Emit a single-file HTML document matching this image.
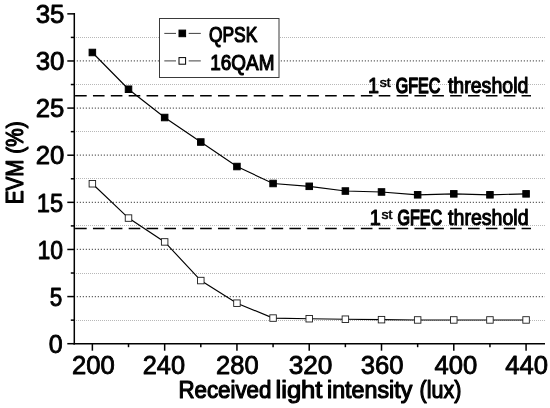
<!DOCTYPE html>
<html><head><meta charset="utf-8"><title>EVM vs received light intensity</title>
<style>html,body{margin:0;padding:0;background:#fff;}svg{display:block;will-change:transform;opacity:0.999;}</style></head>
<body>
<svg width="550" height="408" viewBox="0 0 550 408" font-family="'Liberation Sans', sans-serif" fill="#000">
<rect width="550" height="408" fill="#fff"/>
<line x1="76" x2="545" y1="320.5" y2="320.5" stroke="#b8b8b8" stroke-width="1" stroke-dasharray="1 1"/>
<line x1="76.8" x2="545" y1="296.58" y2="296.58" stroke="#555" stroke-width="1.3" stroke-dasharray="1.1 1.9"/>
<line x1="76" x2="545" y1="273.5" y2="273.5" stroke="#b8b8b8" stroke-width="1" stroke-dasharray="1 1"/>
<line x1="76.8" x2="545" y1="249.46" y2="249.46" stroke="#555" stroke-width="1.3" stroke-dasharray="1.1 1.9"/>
<line x1="76" x2="545" y1="225.5" y2="225.5" stroke="#b8b8b8" stroke-width="1" stroke-dasharray="1 1"/>
<line x1="76.8" x2="545" y1="202.34" y2="202.34" stroke="#555" stroke-width="1.3" stroke-dasharray="1.1 1.9"/>
<line x1="76" x2="545" y1="178.5" y2="178.5" stroke="#b8b8b8" stroke-width="1" stroke-dasharray="1 1"/>
<line x1="76.8" x2="545" y1="155.21" y2="155.21" stroke="#555" stroke-width="1.3" stroke-dasharray="1.1 1.9"/>
<line x1="76" x2="545" y1="131.5" y2="131.5" stroke="#b8b8b8" stroke-width="1" stroke-dasharray="1 1"/>
<line x1="76.8" x2="545" y1="108.09" y2="108.09" stroke="#555" stroke-width="1.3" stroke-dasharray="1.1 1.9"/>
<line x1="76" x2="545" y1="84.5" y2="84.5" stroke="#b8b8b8" stroke-width="1" stroke-dasharray="1 1"/>
<line x1="76.8" x2="545" y1="60.97" y2="60.97" stroke="#555" stroke-width="1.3" stroke-dasharray="1.1 1.9"/>
<line x1="76" x2="545" y1="37.5" y2="37.5" stroke="#b8b8b8" stroke-width="1" stroke-dasharray="1 1"/>
<line x1="74.3" x2="531" y1="95.8" y2="95.8" stroke="#000" stroke-width="1.6" stroke-dasharray="11.6 6.26" stroke-dashoffset="-0.8"/>
<line x1="74.3" x2="531" y1="228.5" y2="228.5" stroke="#000" stroke-width="1.6" stroke-dasharray="11.6 6.26" stroke-dashoffset="-0.8"/>
<line x1="74.3" x2="74.3" y1="13.05" y2="344.50" stroke="#000" stroke-width="1.5"/>
<line x1="73.5" x2="545" y1="343.7" y2="343.7" stroke="#000" stroke-width="1.5"/>
<line x1="67.3" x2="74.3" y1="343.70" y2="343.70" stroke="#000" stroke-width="1.5"/>
<line x1="70.8" x2="74.3" y1="320.14" y2="320.14" stroke="#000" stroke-width="1.5"/>
<line x1="67.3" x2="74.3" y1="296.58" y2="296.58" stroke="#000" stroke-width="1.5"/>
<line x1="70.8" x2="74.3" y1="273.02" y2="273.02" stroke="#000" stroke-width="1.5"/>
<line x1="67.3" x2="74.3" y1="249.46" y2="249.46" stroke="#000" stroke-width="1.5"/>
<line x1="70.8" x2="74.3" y1="225.90" y2="225.90" stroke="#000" stroke-width="1.5"/>
<line x1="67.3" x2="74.3" y1="202.34" y2="202.34" stroke="#000" stroke-width="1.5"/>
<line x1="70.8" x2="74.3" y1="178.78" y2="178.78" stroke="#000" stroke-width="1.5"/>
<line x1="67.3" x2="74.3" y1="155.21" y2="155.21" stroke="#000" stroke-width="1.5"/>
<line x1="70.8" x2="74.3" y1="131.65" y2="131.65" stroke="#000" stroke-width="1.5"/>
<line x1="67.3" x2="74.3" y1="108.09" y2="108.09" stroke="#000" stroke-width="1.5"/>
<line x1="70.8" x2="74.3" y1="84.53" y2="84.53" stroke="#000" stroke-width="1.5"/>
<line x1="67.3" x2="74.3" y1="60.97" y2="60.97" stroke="#000" stroke-width="1.5"/>
<line x1="70.8" x2="74.3" y1="37.41" y2="37.41" stroke="#000" stroke-width="1.5"/>
<line x1="67.3" x2="74.3" y1="13.85" y2="13.85" stroke="#000" stroke-width="1.5"/>
<line x1="92.37" x2="92.37" y1="343.7" y2="350.7" stroke="#000" stroke-width="1.5"/>
<line x1="128.51" x2="128.51" y1="343.7" y2="347.2" stroke="#000" stroke-width="1.5"/>
<line x1="164.66" x2="164.66" y1="343.7" y2="350.7" stroke="#000" stroke-width="1.5"/>
<line x1="200.80" x2="200.80" y1="343.7" y2="347.2" stroke="#000" stroke-width="1.5"/>
<line x1="236.94" x2="236.94" y1="343.7" y2="350.7" stroke="#000" stroke-width="1.5"/>
<line x1="273.08" x2="273.08" y1="343.7" y2="347.2" stroke="#000" stroke-width="1.5"/>
<line x1="309.22" x2="309.22" y1="343.7" y2="350.7" stroke="#000" stroke-width="1.5"/>
<line x1="345.37" x2="345.37" y1="343.7" y2="347.2" stroke="#000" stroke-width="1.5"/>
<line x1="381.51" x2="381.51" y1="343.7" y2="350.7" stroke="#000" stroke-width="1.5"/>
<line x1="417.65" x2="417.65" y1="343.7" y2="347.2" stroke="#000" stroke-width="1.5"/>
<line x1="453.79" x2="453.79" y1="343.7" y2="350.7" stroke="#000" stroke-width="1.5"/>
<line x1="489.94" x2="489.94" y1="343.7" y2="347.2" stroke="#000" stroke-width="1.5"/>
<line x1="526.08" x2="526.08" y1="343.7" y2="350.7" stroke="#000" stroke-width="1.5"/>
<text transform="translate(62.70,352.90) scale(1.0,1)" font-size="25" text-anchor="end" stroke="#000" stroke-width="0.85" vector-effect="non-scaling-stroke" stroke-linejoin="round" >0</text>
<text transform="translate(62.30,305.78) scale(0.9,1)" font-size="25" text-anchor="end" stroke="#000" stroke-width="0.85" vector-effect="non-scaling-stroke" stroke-linejoin="round" >5</text>
<text transform="translate(63.00,258.66) scale(0.92,1)" font-size="25" text-anchor="end" stroke="#000" stroke-width="0.85" vector-effect="non-scaling-stroke" stroke-linejoin="round" >10</text>
<text transform="translate(63.20,211.54) scale(0.95,1)" font-size="25" text-anchor="end" stroke="#000" stroke-width="0.85" vector-effect="non-scaling-stroke" stroke-linejoin="round" >15</text>
<text transform="translate(64.30,164.41) scale(1.03,1)" font-size="25" text-anchor="end" stroke="#000" stroke-width="0.85" vector-effect="non-scaling-stroke" stroke-linejoin="round" >20</text>
<text transform="translate(64.30,117.29) scale(1.03,1)" font-size="25" text-anchor="end" stroke="#000" stroke-width="0.85" vector-effect="non-scaling-stroke" stroke-linejoin="round" >25</text>
<text transform="translate(64.50,70.17) scale(1.035,1)" font-size="25" text-anchor="end" stroke="#000" stroke-width="0.85" vector-effect="non-scaling-stroke" stroke-linejoin="round" >30</text>
<text transform="translate(64.50,23.05) scale(1.035,1)" font-size="25" text-anchor="end" stroke="#000" stroke-width="0.85" vector-effect="non-scaling-stroke" stroke-linejoin="round" >35</text>
<text transform="translate(93.47,373.60) scale(1.025,1)" font-size="25" text-anchor="middle" stroke="#000" stroke-width="0.85" vector-effect="non-scaling-stroke" stroke-linejoin="round" >200</text>
<text transform="translate(163.86,373.60) scale(1.015,1)" font-size="25" text-anchor="middle" stroke="#000" stroke-width="0.85" vector-effect="non-scaling-stroke" stroke-linejoin="round" >240</text>
<text transform="translate(237.34,373.60) scale(1.02,1)" font-size="25" text-anchor="middle" stroke="#000" stroke-width="0.85" vector-effect="non-scaling-stroke" stroke-linejoin="round" >280</text>
<text transform="translate(310.52,373.60) scale(1.05,1)" font-size="25" text-anchor="middle" stroke="#000" stroke-width="0.85" vector-effect="non-scaling-stroke" stroke-linejoin="round" >320</text>
<text transform="translate(382.21,373.60) scale(1.025,1)" font-size="25" text-anchor="middle" stroke="#000" stroke-width="0.85" vector-effect="non-scaling-stroke" stroke-linejoin="round" >360</text>
<text transform="translate(455.79,373.60) scale(1.025,1)" font-size="25" text-anchor="middle" stroke="#000" stroke-width="0.85" vector-effect="non-scaling-stroke" stroke-linejoin="round" >400</text>
<text transform="translate(526.68,373.60) scale(1.025,1)" font-size="25" text-anchor="middle" stroke="#000" stroke-width="0.85" vector-effect="non-scaling-stroke" stroke-linejoin="round" >440</text>
<text transform="translate(178.40,398.40) scale(0.915,1)" font-size="24.4" text-anchor="start" stroke="#000" stroke-width="1.15" vector-effect="non-scaling-stroke" stroke-linejoin="round" >Received</text>
<text transform="translate(275.50,398.40) scale(1.05,1)" font-size="24.4" text-anchor="start" stroke="#000" stroke-width="1.15" vector-effect="non-scaling-stroke" stroke-linejoin="round" >light</text>
<text transform="translate(327.00,398.40) scale(0.953,1)" font-size="24.4" text-anchor="start" stroke="#000" stroke-width="1.15" vector-effect="non-scaling-stroke" stroke-linejoin="round" >intensity</text>
<text transform="translate(419.60,398.40) scale(0.88,1)" font-size="24.4" text-anchor="start" stroke="#000" stroke-width="1.15" vector-effect="non-scaling-stroke" stroke-linejoin="round" >(lux)</text>
<text transform="translate(23.2,162.9) rotate(-90) scale(0.875,1)" font-size="23.7" text-anchor="middle" stroke="#000" stroke-width="1.1" vector-effect="non-scaling-stroke" stroke-linejoin="round">EVM (%)</text>
<polyline points="92.37,52.49 128.51,89.24 164.66,117.52 200.80,142.02 236.94,166.52 273.08,183.49 309.22,186.31 345.37,191.03 381.51,191.97 417.65,194.80 453.79,193.85 489.94,194.80 526.08,193.85" fill="none" stroke="#000" stroke-width="1.15"/>
<rect x="89.12" y="49.24" width="6.5" height="6.5" fill="#000" stroke="#000" stroke-width="1"/>
<rect x="125.26" y="85.99" width="6.5" height="6.5" fill="#000" stroke="#000" stroke-width="1"/>
<rect x="161.41" y="114.27" width="6.5" height="6.5" fill="#000" stroke="#000" stroke-width="1"/>
<rect x="197.55" y="138.77" width="6.5" height="6.5" fill="#000" stroke="#000" stroke-width="1"/>
<rect x="233.69" y="163.27" width="6.5" height="6.5" fill="#000" stroke="#000" stroke-width="1"/>
<rect x="269.83" y="180.24" width="6.5" height="6.5" fill="#000" stroke="#000" stroke-width="1"/>
<rect x="305.97" y="183.06" width="6.5" height="6.5" fill="#000" stroke="#000" stroke-width="1"/>
<rect x="342.12" y="187.78" width="6.5" height="6.5" fill="#000" stroke="#000" stroke-width="1"/>
<rect x="378.26" y="188.72" width="6.5" height="6.5" fill="#000" stroke="#000" stroke-width="1"/>
<rect x="414.40" y="191.55" width="6.5" height="6.5" fill="#000" stroke="#000" stroke-width="1"/>
<rect x="450.54" y="190.60" width="6.5" height="6.5" fill="#000" stroke="#000" stroke-width="1"/>
<rect x="486.69" y="191.55" width="6.5" height="6.5" fill="#000" stroke="#000" stroke-width="1"/>
<rect x="522.83" y="190.60" width="6.5" height="6.5" fill="#000" stroke="#000" stroke-width="1"/>
<polyline points="92.37,183.77 128.51,218.07 164.66,241.92 200.80,280.56 236.94,303.18 273.08,318.07 309.22,318.73 345.37,319.20 381.51,319.67 417.65,319.95 453.79,319.95 489.94,319.95 526.08,319.95" fill="none" stroke="#000" stroke-width="1.15"/>
<rect x="89.12" y="180.52" width="6.5" height="6.5" fill="#fff" stroke="#1c1c1c" stroke-width="0.9"/>
<rect x="125.26" y="214.82" width="6.5" height="6.5" fill="#fff" stroke="#1c1c1c" stroke-width="0.9"/>
<rect x="161.41" y="238.67" width="6.5" height="6.5" fill="#fff" stroke="#1c1c1c" stroke-width="0.9"/>
<rect x="197.55" y="277.31" width="6.5" height="6.5" fill="#fff" stroke="#1c1c1c" stroke-width="0.9"/>
<rect x="233.69" y="299.93" width="6.5" height="6.5" fill="#fff" stroke="#1c1c1c" stroke-width="0.9"/>
<rect x="269.83" y="314.82" width="6.5" height="6.5" fill="#fff" stroke="#1c1c1c" stroke-width="0.9"/>
<rect x="305.97" y="315.48" width="6.5" height="6.5" fill="#fff" stroke="#1c1c1c" stroke-width="0.9"/>
<rect x="342.12" y="315.95" width="6.5" height="6.5" fill="#fff" stroke="#1c1c1c" stroke-width="0.9"/>
<rect x="378.26" y="316.42" width="6.5" height="6.5" fill="#fff" stroke="#1c1c1c" stroke-width="0.9"/>
<rect x="414.40" y="316.70" width="6.5" height="6.5" fill="#fff" stroke="#1c1c1c" stroke-width="0.9"/>
<rect x="450.54" y="316.70" width="6.5" height="6.5" fill="#fff" stroke="#1c1c1c" stroke-width="0.9"/>
<rect x="486.69" y="316.70" width="6.5" height="6.5" fill="#fff" stroke="#1c1c1c" stroke-width="0.9"/>
<rect x="522.83" y="316.70" width="6.5" height="6.5" fill="#fff" stroke="#1c1c1c" stroke-width="0.9"/>
<text transform="translate(367.90,93.30) scale(0.9,1)" font-size="22" text-anchor="start" stroke="#000" stroke-width="1.0" vector-effect="non-scaling-stroke" stroke-linejoin="round" >1</text>
<text transform="translate(379.70,87.30) scale(1.12,1)" font-size="12.5" text-anchor="start" stroke="#000" stroke-width="0.6" vector-effect="non-scaling-stroke" stroke-linejoin="round" >st</text>
<text transform="translate(395.70,93.30) scale(0.73,1)" font-size="22" text-anchor="start" stroke="#000" stroke-width="1.35" vector-effect="non-scaling-stroke" stroke-linejoin="round" >GFEC</text>
<text transform="translate(447.90,93.30) scale(0.89,1)" font-size="22" text-anchor="start" stroke="#000" stroke-width="1.0" vector-effect="non-scaling-stroke" stroke-linejoin="round" >threshold</text>
<text transform="translate(369.70,224.50) scale(0.9,1)" font-size="22" text-anchor="start" stroke="#000" stroke-width="1.0" vector-effect="non-scaling-stroke" stroke-linejoin="round" >1</text>
<text transform="translate(381.50,218.50) scale(1.12,1)" font-size="12.5" text-anchor="start" stroke="#000" stroke-width="0.6" vector-effect="non-scaling-stroke" stroke-linejoin="round" >st</text>
<text transform="translate(397.50,224.50) scale(0.73,1)" font-size="22" text-anchor="start" stroke="#000" stroke-width="1.35" vector-effect="non-scaling-stroke" stroke-linejoin="round" >GFEC</text>
<text transform="translate(448.10,224.50) scale(0.89,1)" font-size="22" text-anchor="start" stroke="#000" stroke-width="1.0" vector-effect="non-scaling-stroke" stroke-linejoin="round" >threshold</text>
<rect x="159.5" y="18.5" width="119.5" height="59" fill="#fff" stroke="#3a3a3a" stroke-width="1"/>
<line x1="164.3" x2="176" y1="33.4" y2="33.4" stroke="#2a2a2a" stroke-width="0.9"/>
<line x1="188.7" x2="200.8" y1="33.4" y2="33.4" stroke="#2a2a2a" stroke-width="0.9"/>
<rect x="179.00" y="30.10" width="6.6" height="6.6" fill="#000" stroke="#000" stroke-width="1"/>
<text transform="translate(209.00,41.90) scale(0.79,1)" font-size="22" text-anchor="start" stroke="#000" stroke-width="1.1" vector-effect="non-scaling-stroke" stroke-linejoin="round" >QPSK</text>
<line x1="164.3" x2="176" y1="60.9" y2="60.9" stroke="#2a2a2a" stroke-width="0.9"/>
<line x1="188.7" x2="200.8" y1="60.9" y2="60.9" stroke="#2a2a2a" stroke-width="0.9"/>
<rect x="179.00" y="57.60" width="6.6" height="6.6" fill="#fff" stroke="#000" stroke-width="1"/>
<text transform="translate(210.30,70.40) scale(0.86,1)" font-size="22" text-anchor="start" stroke="#000" stroke-width="1.1" vector-effect="non-scaling-stroke" stroke-linejoin="round" >16QAM</text>
</svg>
</body></html>
